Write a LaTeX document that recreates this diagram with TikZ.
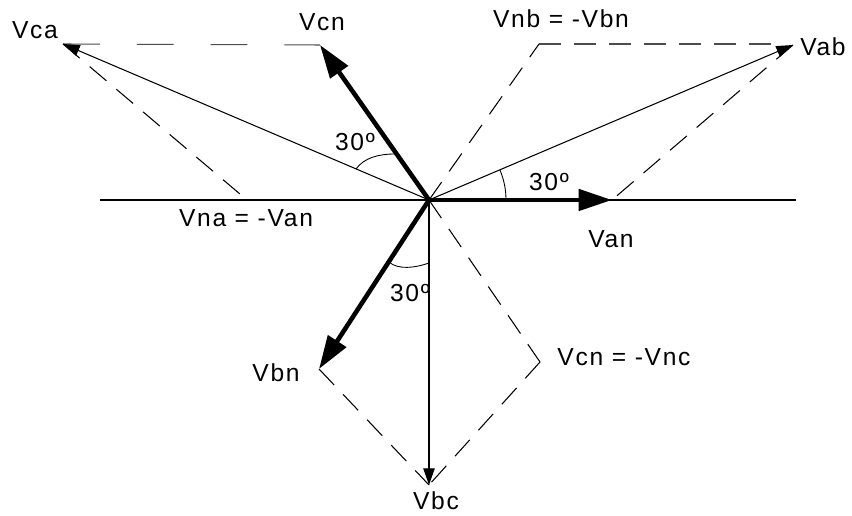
\documentclass[tikz,border=0pt]{standalone}
\usepackage{fontspec}
\setmainfont{Liberation Sans}[LetterSpace=7]
\usetikzlibrary{arrows.meta}
\begin{document}
\begin{tikzpicture}[x=0.02cm,y=-0.02cm,
  lbl/.style={font=\fontsize{14}{16}\selectfont, inner sep=0pt},
  vline/.style={line width=0.6pt},
  thinarrow/.style={line width=0.6pt, -{Triangle[length=9.5pt,width=6.5pt]}},
  thickarrow/.style={line width=2.6pt, -{Triangle[length=19pt,width=12pt]}},
  dashline/.style={line width=0.6pt, dash pattern=on 12.5pt off 7.4pt},
  longdash/.style={line width=0.6pt, black!70, dash pattern=on 21pt off 21pt},
  angarc/.style={line width=0.5pt}]
\useasboundingbox (0,0) rectangle (852,516);
\fill[white] (0,0) rectangle (852,516);
% points
\coordinate (O) at (429,200);
\coordinate (van) at (612,200);
\coordinate (vcn) at (320,45);
\coordinate (vbn) at (319,369);
\coordinate (vab) at (793,45);
\coordinate (vca) at (63,44);
\coordinate (vbc) at (429,485);
\coordinate (vna) at (247,200);
\coordinate (vnb) at (539,44);
\coordinate (vnc) at (540,362);
\coordinate (hl) at (100,200);
\coordinate (hr) at (796,200);
% reference line
\draw[vline] (hl) -- (hr);
% dashed construction lines
\draw[longdash] (vca) -- (vcn);
\draw[dashline] (vca) -- (vna);
\draw[dashline] (O) -- (vnb);
\draw[dashline, black!70] (vnb) -- (782,44);
\draw[dashline] (vab) -- (van);
\draw[dashline] (O) -- (vnc);
\draw[dashline] (vnc) -- (vbc);
\draw[dashline] (vbn) -- (vbc);
% line voltages
\draw[thinarrow] (O) -- (vab);
\draw[thinarrow] (O) -- (vca);
\draw[thinarrow] (O) -- (vbc);
% phase voltages
\draw[thickarrow] (O) -- (van);
\draw[thickarrow] (O) -- (vcn);
\draw[thickarrow] (O) -- (vbn);
% angle arcs
\draw[angarc] plot[domain=0:23, samples=24, smooth] ({429+77*cos(\x)},{200-77*sin(\x)});
\draw[angarc] (356,169) .. controls (364,158) and (378,154) .. (395,154);
\draw[angarc] (389,262) .. controls (398,270) and (415,268) .. (429,263);
% labels
\node[lbl] (lvca) at (35,30) {Vca};
\node[lbl] (lvcn) at (322,22) {Vcn};
\node[lbl] (la1) at (355,142) {30º};
\node[lbl] (lvna) at (246,218) {Vna = -Van};
\node[lbl] (lvnb) at (561,19) {Vnb = -Vbn};
\node[lbl] (lvab) at (823,47) {Vab};
\node[lbl] (la2) at (549,182) {30º};
\node[lbl] (lvan) at (611,239) {Van};
\node[lbl] (la3) at (410,293) {30º};
\node[lbl] (lvbn) at (276,373) {Vbn};
\node[lbl] (lvnc) at (624,357) {Vcn = -Vnc};
\node[lbl] (lvbc) at (436,501) {Vbc};
\end{tikzpicture}
\end{document}
